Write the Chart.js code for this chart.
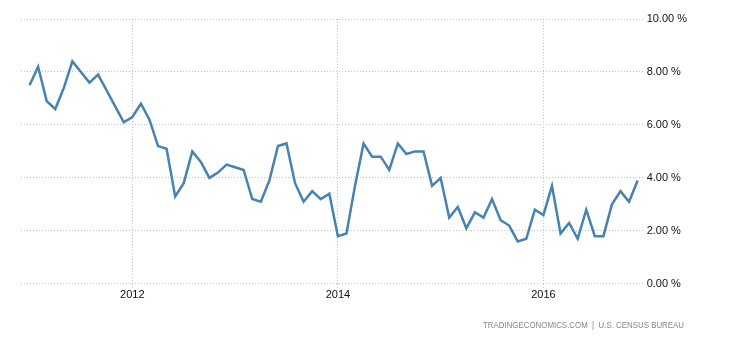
<!DOCTYPE html>
<html>
<head>
<meta charset="utf-8">
<script src="https://cdn.jsdelivr.net/npm/chart.js@4"></script>
<style>
  html, body { margin: 0; padding: 0; background: #fff; }
  #wrap { position: relative; width: 730px; height: 340px; }
</style>
</head>
<body>
<div id="wrap"><canvas id="rateChart"></canvas></div>
<script>
// monthly values, Jan 2011 .. Dec 2016
const startYear = 2011;
const rates = [
    7.5, 8.2, 6.9, 6.6, 7.4, 8.4, 8.0, 7.6, 7.9, 7.3, 6.7, 6.1,
    6.3, 6.8, 6.2, 5.2, 5.1, 3.3, 3.8, 5.0, 4.6, 4.0, 4.2, 4.5,
    4.4, 4.3, 3.2, 3.1, 3.9, 5.2, 5.3, 3.8, 3.1, 3.5, 3.2, 3.4,
    1.8, 1.9, 3.7, 5.3, 4.8, 4.8, 4.3, 5.3, 4.9, 5.0, 5.0, 3.7,
    4.0, 2.5, 2.9, 2.1, 2.7, 2.5, 3.2, 2.4, 2.2, 1.6, 1.7, 2.8,
    2.6, 3.7, 1.9, 2.3, 1.7, 2.8, 1.8, 1.8, 3.0, 3.5, 3.1, 3.9
];
const yearLabels = ["2012", "2014", "2016"];
const yTickValues = [0, 2, 4, 6, 8, 10];
const sourceText = "TRADINGECONOMICS.COM  |  U.S. CENSUS BUREAU";

// month index of each labelled January
const yearIndex = yearLabels.map(y => (Number(y) - startYear) * 12);
const points = rates.map((v, i) => ({ x: i, y: v }));

const gridColor = "#c4c4c4";
const labelFont = { family: "'Liberation Sans', Arial, sans-serif", size: 11 };

// source line, squeezed a little to the width of the original narrow font
const sourcePlugin = {
    id: "sourceText",
    afterDraw(chart) {
        const c = chart.ctx;
        c.save();
        c.font = "8.5px 'Liberation Sans', sans-serif";
        c.fillStyle = "#808890";
        c.textAlign = "right";
        c.textBaseline = "middle";
        const w = c.measureText(sourceText).width;
        const k = Math.min(1, 201 / w);
        c.translate(684, 325.5);
        c.scale(k, 1);
        c.fillText(sourceText, 0, 0);
        c.restore();
    }
};

new Chart(document.getElementById("rateChart").getContext("2d"), {
    type: "line",
    data: {
        datasets: [{
            data: points,
            borderColor: "#4682b4",
            borderWidth: 2.5,
            pointRadius: 0,
            tension: 0,
            fill: false
        }]
    },
    options: {
        responsive: true,
        maintainAspectRatio: false,
        animation: false,
        layout: { padding: { left: 21, right: 40, top: 19, bottom: 37 } },
        plugins: { legend: { display: false }, tooltip: { enabled: false } },
        scales: {
            x: {
                type: "linear",
                min: -1,
                max: 71.7,
                afterBuildTicks: axis => {
                    axis.ticks = yearIndex.map(v => ({ value: v }));
                },
                ticks: {
                    autoSkip: false,
                    maxRotation: 0,
                    padding: 1,
                    color: "#111",
                    font: labelFont,
                    callback: v => yearLabels[yearIndex.indexOf(v)]
                },
                grid: {
                    color: gridColor,
                    tickBorderDash: [1, 2],
                    tickColor: gridColor,
                    tickLength: 4
                },
                border: { display: false, dash: [1, 2] }
            },
            y: {
                position: "right",
                min: 0,
                max: 10,
                afterBuildTicks: axis => {
                    axis.ticks = yTickValues.map(v => ({ value: v }));
                },
                ticks: {
                    padding: 3,
                    color: "#111",
                    font: labelFont,
                    callback: v => v.toFixed(2) + " %"
                },
                grid: {
                    color: gridColor,
                    drawTicks: false
                },
                border: { display: false, dash: [1, 2] }
            }
        }
    },
    plugins: [sourcePlugin]
});
</script>
</body>
</html>
